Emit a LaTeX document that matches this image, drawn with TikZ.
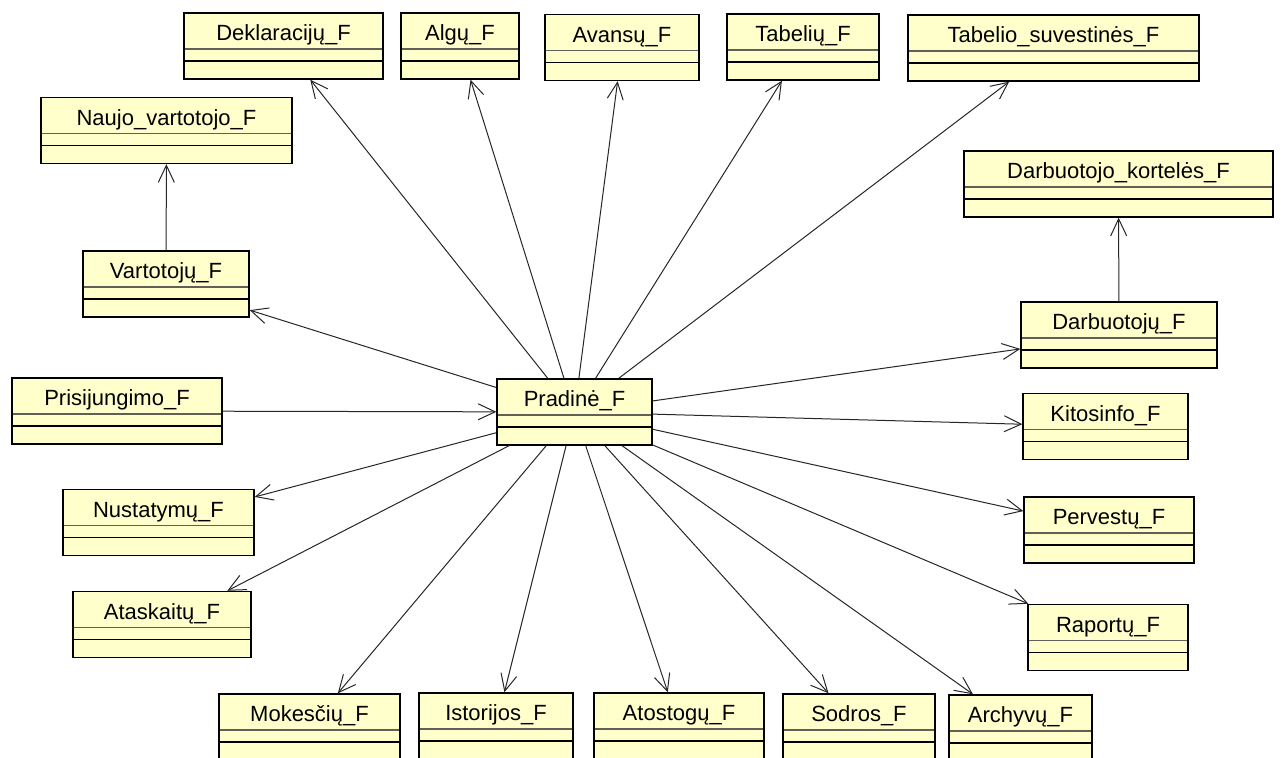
\documentclass[tikz,border=0pt]{standalone}
\usepackage{fontspec}
\setmainfont{Liberation Sans}
\usetikzlibrary{arrows.meta}
\definecolor{clsfill}{HTML}{FFFFCC}
\definecolor{sepgray}{HTML}{606058}
\tikzset{
  cls/.style={
    draw=black, line width=0.7pt, fill=clsfill, rectangle,
    minimum width=#1, minimum height=0pt,
    inner xsep=2pt, inner ysep=0pt,
    text height=13.85pt, text depth=19.15pt,
    font=\fontsize{11}{13}\selectfont,
    path picture={
      \draw[sepgray, line width=0.6pt]
        ([yshift=-18pt]path picture bounding box.north west) --
        ([yshift=-18pt]path picture bounding box.north east);
      \draw[black, line width=0.6pt]
        ([yshift=-24pt]path picture bounding box.north west) --
        ([yshift=-24pt]path picture bounding box.north east);
    }
  },
  dep/.style={-{Straight Barb[length=8.5pt,width=8pt]}, line width=0.5pt, draw=black!85}
}
\begin{document}
\begin{tikzpicture}[x=0.5pt, y=-0.5pt]
  \useasboundingbox (0,0) rectangle (1282,758);
  \clip (0,0) rectangle (1282,758);

  % top row
  \node[cls=99.5pt]  (dekl)  at (283.5,46)  {Deklaracijų\_F};
  \node[cls=59pt]    (algu)  at (460,46)    {Algų\_F};
  \node[cls=77pt]    (avan)  at (622,47.5)  {Avansų\_F};
  \node[cls=76pt]    (tabl)  at (803,47)    {Tabelių\_F};
  \node[cls=145.5pt] (tsuv)  at (1053.5,48) {Tabelio\_suvestinės\_F};

  % left column
  \node[cls=125.5pt] (naujo) at (166.5,130.5) {Naujo\_vartotojo\_F};
  \node[cls=83pt]    (vart)  at (166,284)     {Vartotojų\_F};
  \node[cls=105pt]   (pris)  at (117,411)     {Prisijungimo\_F};
  \node[cls=95.5pt]  (nust)  at (158.5,522.5) {Nustatymų\_F};
  \node[cls=89pt]    (atas)  at (162,624.5)   {Ataskaitų\_F};

  % centre
  \node[cls=77.5pt]  (prad)  at (574.5,412)   {Pradinė\_F};

  % right column
  \node[cls=154.5pt] (dkort) at (1118.5,184)  {Darbuotojo\_kortelės\_F};
  \node[cls=98pt]    (darb)  at (1119,335)    {Darbuotojų\_F};
  \node[cls=82.5pt]  (kitos) at (1105.5,426.5) {Kitosinfo\_F};
  \node[cls=85pt]    (perv)  at (1109,530)    {Pervestų\_F};
  \node[cls=80pt]    (rap)   at (1108,637.5)  {Raportų\_F};

  % bottom row
  \node[cls=90.5pt]  (mok)   at (309.5,727)   {Mokesčių\_F};
  \node[cls=77pt]    (ist)   at (496,726)     {Istorijos\_F};
  \node[cls=85pt]    (atos)  at (679,726)     {Atostogų\_F};
  \node[cls=76pt]    (sod)   at (859,727)     {Sodros\_F};
  \node[cls=71.5pt]  (arch)  at (1020.5,728)  {Archyvų\_F};

  % dependencies
  \draw[dep] (pris) -- (prad);
  \draw[dep] (vart) -- (naujo);
  \draw[dep] (darb) -- (dkort);
  \foreach \t in {dekl,algu,avan,tabl,tsuv,vart,darb,kitos,perv,rap,nust,atas,mok,ist,atos,sod,arch}
    \draw[dep] (prad) -- (\t);
\end{tikzpicture}
\end{document}
